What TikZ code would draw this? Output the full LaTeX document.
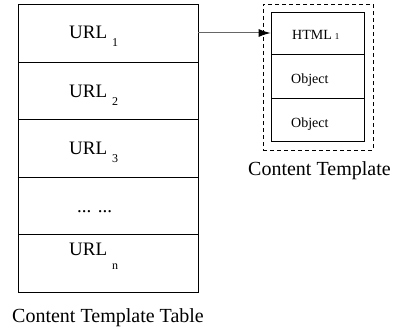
\documentclass[tikz,border=0pt]{standalone}
\usepackage{fontspec}
\setmainfont{Liberation Serif}
\usetikzlibrary{arrows.meta}
\newcommand{\fsz}[1]{\fontsize{#1}{#1}\selectfont}
\begin{document}
\begin{tikzpicture}[x=1pt,y=-1pt,
  cell/.style={draw=black,line width=0.8pt,rectangle,inner sep=0pt,minimum width=#1},
  txt/.style={anchor=base west,inner sep=0pt},
  urltxt/.style={txt,font=\fsz{19}},
  objtxt/.style={txt,font=\fsz{14}},
  caption/.style={txt,font=\fsz{20}}]
\useasboundingbox (0,0) rectangle (396,329);
% left table of URLs
\node[cell=180pt,minimum height=58pt] (r1) at (108,33) {};
\node[cell=180pt,minimum height=57pt] (r2) at (108,90.5) {};
\node[cell=180pt,minimum height=58pt] (r3) at (108,148) {};
\node[cell=180pt,minimum height=57pt] (r4) at (108,205.5) {};
\node[cell=180pt,minimum height=58pt] (r5) at (108,263) {};
\draw[line width=1.8pt] (r3.south west) -- (r3.south east);
\node[urltxt] (u1) at (69,39) {URL\hspace{5pt}\raisebox{-8pt}{\fsz{12}1}};
\node[urltxt] (u2) at (69,97) {URL\hspace{5pt}\raisebox{-8pt}{\fsz{12}2}};
\node[urltxt] (u3) at (69,154) {URL\hspace{5pt}\raisebox{-8pt}{\fsz{12}3}};
\node[urltxt] (dots) at (77,212) {... ...};
\node[urltxt] (un) at (69,255) {URL\hspace{5pt}\raisebox{-14pt}{\fsz{12}n}};
\node[caption] (tcap) at (12,322) {Content Template Table};
% content template
\node[draw,dashed,dash pattern=on 4pt off 3pt,line width=0.8pt,inner sep=0pt,
  minimum width=110pt,minimum height=146pt] (frame) at (318,77) {};
\node[cell=93pt,minimum height=42pt] (h1) at (317.5,33) {};
\node[cell=93pt,minimum height=44pt] (o1) at (317.5,76) {};
\node[cell=93pt,minimum height=43pt] (o2) at (317.5,119.5) {};
\node[objtxt] (ht) at (292,40) {HTML\hspace{3pt}{\fsz{9}1}};
\node[objtxt] (ot1) at (291,83) {Object};
\node[objtxt] (ot2) at (291,127) {Object};
\node[caption] (fcap) at (248,175) {Content Template};
% link from the first URL to its template
\draw[draw=black!60,line width=1pt,-{Latex[length=12pt,width=8pt,color=black]}] (r1.east) -- (h1.west);
\end{tikzpicture}
\end{document}
